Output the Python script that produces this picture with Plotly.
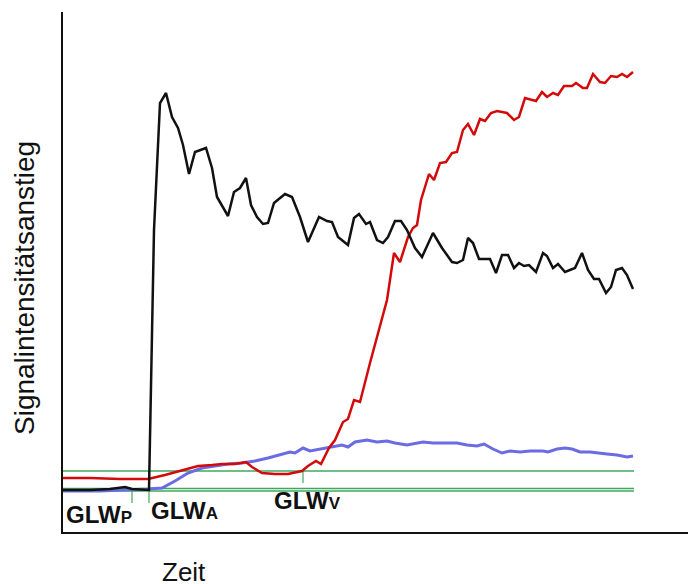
import plotly.graph_objects as go

# Time / signal values (arbitrary units)
time_black = [0, 27, 47, 62, 69, 86, 91, 97, 103, 109, 115, 120, 126, 132, 143, 149, 154, 165, 171, 177,
              183, 188, 194, 200, 205, 211, 222, 229, 237, 245, 256, 264, 269, 275, 285, 291, 296, 303, 307,
              314, 320, 325, 332, 338, 344, 352, 359, 370, 379, 389, 394, 400, 405, 410, 416, 427, 433, 439,
              445, 451, 456, 461, 466, 473, 480, 484, 490, 495, 502, 512, 519, 525, 531, 536, 543, 548,
              553, 559, 564, 570]
sig_black = [42, 42, 43, 45, 43, 42, 302, 429, 439, 415, 404, 387, 358, 380, 384, 364, 335, 316, 340, 344,
             354, 327, 315, 308, 309, 329, 338, 335, 315, 290, 315, 311, 310, 295, 287, 314, 318, 308, 310,
             292, 289, 295, 311, 311, 302, 284, 275, 299, 284, 270, 269, 272, 294, 289, 273, 273, 259, 277,
             277, 264, 269, 266, 267, 260, 279, 276, 264, 268, 260, 264, 279, 262, 253, 253, 239, 245,
             262, 264, 257, 243]

time_red = [0, 27, 57, 85, 102, 119, 135, 149, 159, 172, 183, 189, 199, 212, 225, 239, 245, 253, 258, 266,
            272, 280, 285, 291, 297, 307, 316, 324, 331, 337, 345, 350, 354, 358, 362, 366, 371, 377, 383,
            389, 394, 400, 405, 411, 417, 422, 428, 434, 444, 451, 456, 462, 473, 479, 484, 490, 495, 501,
            509, 513, 520, 524, 530, 537, 542, 548, 554, 559, 564, 570]
sig_red = [54, 54, 53, 53, 57, 62, 66, 67, 68, 68, 70, 65, 59, 58, 58, 61, 66, 71, 68, 84,
           92, 110, 113, 132, 130, 169, 202, 232, 279, 270, 295, 304, 307, 332, 345, 358, 352, 369, 370,
           379, 380, 402, 408, 397, 413, 411, 419, 421, 419, 412, 415, 434, 431, 440, 435, 439, 437, 446,
           446, 449, 444, 444, 458, 450, 449, 456, 455, 458, 455, 460]

time_blue = [0, 37, 85, 99, 112, 125, 139, 152, 165, 179, 192, 205, 217, 227, 232, 240, 247, 257, 267, 279,
             285, 292, 304, 314, 324, 332, 344, 354, 360, 370, 384, 394, 404, 414, 421, 430, 439, 447, 457,
             467, 480, 485, 494, 502, 509, 517, 527, 534, 544, 554, 564, 570]
sig_blue = [41, 41, 43, 44, 51, 59, 64, 66, 68, 69, 71, 74, 77, 80, 79, 84, 81, 83, 85, 87,
            85, 90, 92, 90, 91, 89, 87, 89, 90, 89, 89, 89, 87, 86, 88, 83, 79, 81, 80,
            81, 81, 80, 83, 84, 83, 80, 80, 79, 78, 77, 75, 76]

# Threshold (GLW) levels and marker times
glw_levels = [61, 43.5, 41]
glw_end = 571
glw_marks_time = [69, 86, 240]
glw_marks_top = [43, 43, 61]
glw_marks_bottom = [29, 29, 49]
glw_labels = ["P", "A", "V"]
glw_label_time = [1, 86, 209]
glw_label_sig = [18, 22, 32]

fig = go.Figure()

green = "#3ea85c"
for lvl in glw_levels:
    fig.add_trace(go.Scatter(x=[0, glw_end], y=[lvl, lvl], mode="lines",
                             line=dict(color=green, width=1.5), hoverinfo="skip"))
for t, top, bot in zip(glw_marks_time, glw_marks_top, glw_marks_bottom):
    fig.add_trace(go.Scatter(x=[t, t], y=[top, bot], mode="lines",
                             line=dict(color=green, width=1.2), hoverinfo="skip"))

fig.add_trace(go.Scatter(x=time_blue, y=sig_blue, mode="lines",
                         line=dict(color="#6b6be3", width=3)))
fig.add_trace(go.Scatter(x=time_red, y=sig_red, mode="lines",
                         line=dict(color="#d30a0a", width=2.5)))
fig.add_trace(go.Scatter(x=time_black, y=sig_black, mode="lines",
                         line=dict(color="#111111", width=2.5)))

FONT = "Liberation Sans, Arial"
annotations = []
for lab, tx, sy in zip(glw_labels, glw_label_time, glw_label_sig):
    annotations.append(dict(
        x=tx, y=sy, xref="x", yref="y", xanchor="left", yanchor="middle",
        text="<b>GLW<span style='font-size:17px'>" + lab + "</span></b>",
        showarrow=False, font=dict(family=FONT, size=24, color="#111111")))

# plot area spans 633 x 520 px; positions of outer labels in paper units
annotations.append(dict(
    x=(184 - 63) / 633, y=(532 - 572) / 520, xref="paper", yref="paper",
    xanchor="center", yanchor="middle", text="Zeit", showarrow=False,
    font=dict(family=FONT, size=26, color="#111111")))
annotations.append(dict(
    x=(24 - 63) / 633, y=(532 - 288) / 520, xref="paper", yref="paper",
    xanchor="center", yanchor="middle", text="Signalintensitätsanstieg", textangle=-90,
    showarrow=False, font=dict(family=FONT, size=28, color="#111111")))

fig.update_layout(
    width=688, height=576,
    margin=dict(l=55, r=0, t=4, b=52),
    paper_bgcolor="white", plot_bgcolor="white",
    showlegend=False,
    annotations=annotations,
    xaxis=dict(range=[0, 633], showgrid=False, zeroline=False, showticklabels=False, ticks="",
               showline=True, linecolor="#111111", linewidth=2),
    yaxis=dict(range=[0, 520], showgrid=False, zeroline=False, showticklabels=False, ticks="",
               showline=True, linecolor="#111111", linewidth=2),
)

fig.write_html("out.html")
